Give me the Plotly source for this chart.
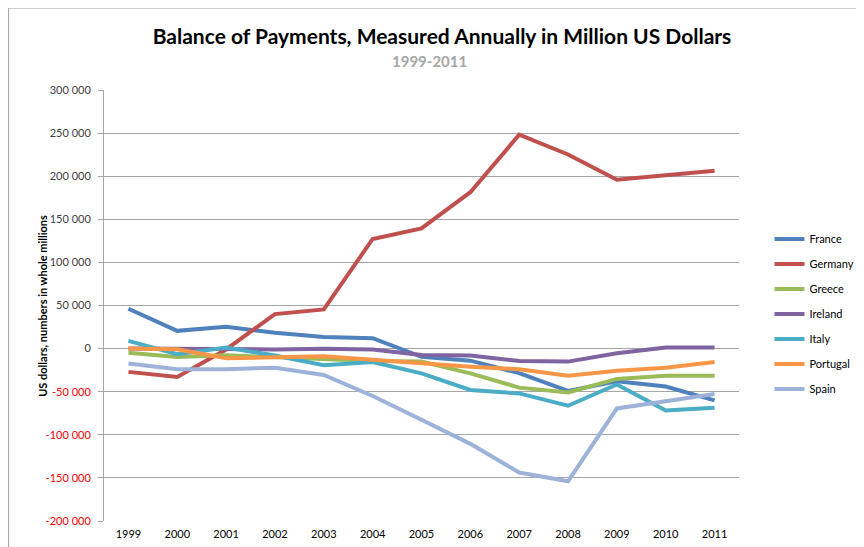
import plotly.graph_objects as go

# Balance of payments, million USD
years = ['1999', '2000', '2001', '2002', '2003', '2004', '2005',
         '2006', '2007', '2008', '2009', '2010', '2011']

france = [46200, 20600, 25200, 18300, 13600, 12100, -9500,
          -14000, -28500, -49000, -38000, -44000, -60000]
germany = [-27000, -33000, -1000, 40000, 45500, 127200, 139500,
           181400, 248100, 225200, 195800, 200800, 206300]
greece = [-4700, -9700, -7700, -9700, -11200, -14300, -15000,
          -28700, -45300, -50800, -35200, -31400, -31400]
ireland = [200, -500, -700, -1000, -100, -1000, -7400,
           -8100, -14300, -15100, -5400, 1200, 1200]
italy = [9000, -6500, 1200, -8000, -19300, -15500, -28700,
         -48000, -52000, -66300, -41500, -71700, -68600]
portugal = [0, -800, -11200, -9700, -8900, -12800, -17100,
            -21000, -24000, -31400, -25600, -22100, -15500]
spain = [-17400, -24000, -24000, -22100, -30600, -55000, -82500,
         -110500, -143800, -153900, -69400, -61600, -52700]

series = [
    ('France', france, '#4F81BD'),
    ('Germany', germany, '#C0504D'),
    ('Greece', greece, '#9BBB59'),
    ('Ireland', ireland, '#8064A2'),
    ('Italy', italy, '#4BACC6'),
    ('Portugal', portugal, '#F79646'),
    ('Spain', spain, '#9DB2D9'),
]

y_ticks = [300000, 250000, 200000, 150000, 100000, 50000, 0,
           -50000, -100000, -150000, -200000]


def fmt(v):
    s = f"{abs(v):,}".replace(',', ' ')
    if v < 0:
        return f'<span style="color:#FF0000">-{s}</span>'
    return s


fig = go.Figure()

for name, vals, color in series:
    fig.add_trace(go.Scatter(x=list(range(len(years))), y=vals, mode='lines', name=name,
                             legendgroup=name,
                             line=dict(color=color, width=4)))

grid = '#A6A6A6'
font = 'Lato, Calibri, sans-serif'

# the page body adds an 8px margin, so the margins below are shifted by 8px
fig.update_layout(
    width=864, height=547,
    margin=dict(l=96, r=109, t=82, b=34),
    paper_bgcolor='white', plot_bgcolor='white',
    font=dict(family=font, size=11, color='#404040'),
    title=dict(text='<b>Balance of Payments, Measured Annually in Million US Dollars</b>',
               x=434 / 864, xref='container', xanchor='center',
               y=1 - 29 / 547, yref='container', yanchor='middle',
               font=dict(family=font, size=21, color='black')),
    showlegend=True,
    legend=dict(x=1.048, xanchor='left', y=0.48, yanchor='middle',
                font=dict(size=11, color='black'), tracegroupgap=6,
                itemwidth=30, bgcolor='rgba(0,0,0,0)'),
    xaxis=dict(range=[-0.5, len(years) - 0.5], tickvals=list(range(len(years))),
               ticktext=years, showgrid=False, zeroline=False, showline=False,
               ticks='', ticklabelstandoff=5,
               tickfont=dict(size=11, color='black'), fixedrange=True),
    xaxis2=dict(overlaying='x', anchor='free', position=0.4,
                range=[-0.5, len(years) - 0.5],
                tickvals=[i - 0.5 for i in range(len(years) + 1)],
                showticklabels=False, ticks='outside', ticklen=5, tickcolor=grid,
                showline=True, linecolor=grid, linewidth=1, showgrid=False,
                zeroline=False),
    yaxis=dict(range=[-200000, 300000], tickvals=y_ticks,
               ticktext=[fmt(v) for v in y_ticks],
               showgrid=True, gridcolor=grid, gridwidth=1,
               zeroline=False, showline=True, linecolor=grid, linewidth=1,
               ticks='outside', ticklen=5, tickcolor=grid, ticklabelstandoff=5,
               tickfont=dict(size=11, color='#404040')),
)

fig.add_annotation(text='<b>US dollars, numbers in whole millions</b>',
                   xref='paper', yref='paper', x=(40 - 104) / 659, y=0.5,
                   textangle=-90, showarrow=False, xanchor='center', yanchor='middle',
                   font=dict(family=font, size=11, color='black'))

fig.add_annotation(text='<b>1999-2011</b>', xref='paper', yref='paper',
                   x=(442 - 104) / 659, y=(521 - 61) / 431, showarrow=False,
                   xanchor='center', yanchor='middle',
                   font=dict(family=font, size=15, color='#A6A6A6'))

# chart area border
fig.add_shape(type='rect', xref='paper', yref='paper',
              x0=(5 - 104) / 659, x1=1.3, y0=-0.2, y1=(521 - 8) / 431,
              line=dict(color='#A0A0A0', width=1), layer='below')

fig.write_html("out.html")
